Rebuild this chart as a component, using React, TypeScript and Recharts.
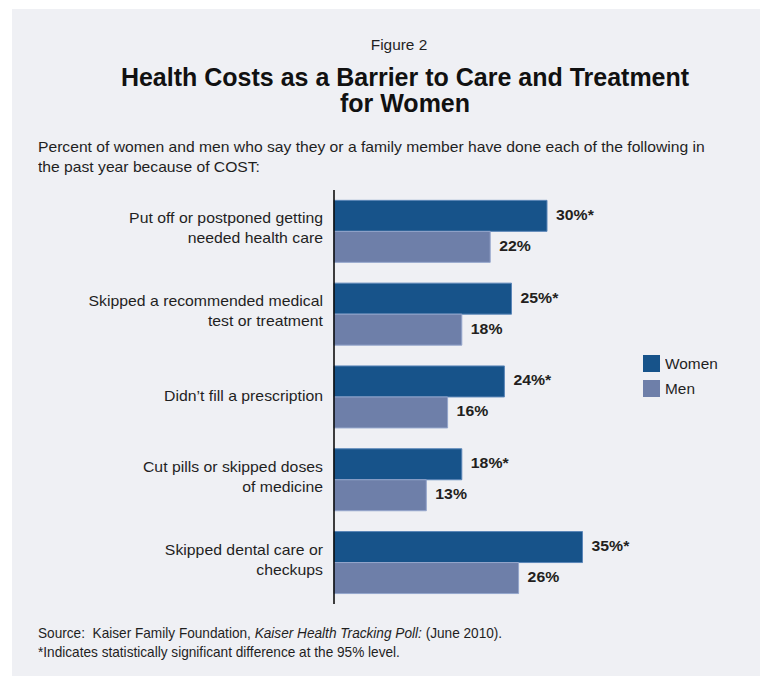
import { BarChart, Bar, XAxis, YAxis, LabelList, Legend } from 'recharts';

const categories = [
  ['Put off or postponed getting', 'needed health care'],
  ['Skipped a recommended medical', 'test or treatment'],
  ['Didn\u2019t fill a prescription'],
  ['Cut pills or skipped doses', 'of medicine'],
  ['Skipped dental care or', 'checkups'],
];
const women = [30, 25, 24, 18, 35];
const men = [22, 18, 16, 13, 26];
const womenLabels = ['30%*', '25%*', '24%*', '18%*', '35%*'];
const menLabels = ['22%', '18%', '16%', '13%', '26%'];

const data = categories.map((lines, i) => ({
  name: lines.join(' '),
  lines,
  women: women[i],
  men: men[i],
  womenLabel: womenLabels[i],
  menLabel: menLabels[i],
}));

const WOMEN = '#17538a';
const MEN = '#6e7fa9';
const FONT = 'Arial, "Liberation Sans", sans-serif';
const STRETCH = 1.13;

// category names, right aligned against the axis, text a bit wide like the original
const CategoryTick = (props: any) => {
  const { y, payload } = props;
  const lines: string[] = data[payload.index]?.lines ?? [payload.value];
  const start = -((lines.length - 1) * 20) / 2 + (lines.length > 1 ? 2 : 4);
  return (
    <g transform={`translate(323, ${y}) scale(${STRETCH}, 1)`}>
      <text x={0} y={0} textAnchor="end" fontSize={14} fill="#1f1f1f" fontFamily={FONT}>
        {lines.map((l, i) => (
          <tspan key={i} x={0} dy={i === 0 ? start : 20}>
            {l}
          </tspan>
        ))}
      </text>
    </g>
  );
};

const ValueLabel = (props: any) => {
  const { x, y, width, height, value } = props;
  return (
    <g transform={`translate(${x + width + 9}, ${y + height / 2 + 4}) scale(${STRETCH}, 1)`}>
      <text x={0} y={0} fontSize={14} fontWeight="bold" fill="#231f20" fontFamily={FONT}>
        {value}
      </text>
    </g>
  );
};

const LegendBox = () => (
  <div style={{ fontFamily: FONT, fontSize: 14, color: '#1f1f1f' }}>
    {[
      ['Women', WOMEN],
      ['Men', MEN],
    ].map(([label, color]) => (
      <div key={label} style={{ display: 'flex', alignItems: 'center', height: 25 }}>
        <span style={{ width: 17, height: 17, background: color, display: 'inline-block', marginRight: 5 }} />
        <span style={{ display: 'inline-block', transform: 'scaleX(1.1)', transformOrigin: 'left center' }}>{label}</span>
      </div>
    ))}
  </div>
);

export default function App() {
  return (
    <div style={{ position: 'absolute', left: 0, top: 0, width: 760, height: 676, background: '#ffffff', overflow: 'hidden' }}>
      <div style={{ position: 'absolute', left: 12, top: 9, width: 748, height: 667, background: '#eff0f4' }} />
      <div style={{ position: 'absolute', left: 299, top: 37, width: 200, textAlign: 'center', fontFamily: FONT, fontSize: 14, color: '#1f1f1f', transform: 'scaleX(1.1)' }}>
        Figure 2
      </div>
      <div style={{ position: 'absolute', left: 55, top: 64, width: 700, textAlign: 'center', fontFamily: FONT, fontSize: 25, fontWeight: 'bold', lineHeight: '26px', color: '#111' }}>
        Health Costs as a Barrier to Care and Treatment
        <br />
        for Women
      </div>
      <div
        style={{
          position: 'absolute',
          left: 38,
          top: 137,
          width: 700,
          fontFamily: FONT,
          fontSize: 14.5,
          lineHeight: '20px',
          color: '#1f1f1f',
          whiteSpace: 'nowrap',
          transform: 'scaleX(1.08)',
          transformOrigin: 'left top',
        }}
      >
        Percent of women and men who say they or a family member have done each of the following in
        <br />
        the past year because of COST:
      </div>
      <div style={{ position: 'absolute', left: 0, top: 0 }}>
        <BarChart
          width={760}
          height={676}
          data={data}
          layout="vertical"
          margin={{ top: 190, right: 71, bottom: 72, left: 0 }}
          barCategoryGap="12.5%"
          barGap={0}
        >
          <XAxis type="number" domain={[0, 50]} hide />
          <YAxis
            type="category"
            dataKey="name"
            width={334}
            axisLine={{ stroke: '#000', strokeWidth: 1.5 }}
            tickLine={false}
            tick={<CategoryTick />}
            interval={0}
          />
          <Legend
            layout="vertical"
            align="center"
            verticalAlign="middle"
            content={<LegendBox />}
            wrapperStyle={{ left: 643, top: 351, width: 110 }}
          />
          <Bar dataKey="women" name="Women" fill={WOMEN} stroke="#5b86b8" strokeWidth={1} isAnimationActive={false}>
            <LabelList dataKey="womenLabel" content={<ValueLabel />} />
          </Bar>
          <Bar dataKey="men" name="Men" fill={MEN} stroke="#94a6cc" strokeWidth={1} isAnimationActive={false}>
            <LabelList dataKey="menLabel" content={<ValueLabel />} />
          </Bar>
        </BarChart>
      </div>
      <div
        style={{
          position: 'absolute',
          left: 38,
          top: 624,
          fontFamily: FONT,
          fontSize: 14.5,
          lineHeight: '19px',
          color: '#1f1f1f',
          whiteSpace: 'nowrap',
          transform: 'scaleX(0.94)',
          transformOrigin: 'left top',
        }}
      >
        Source:&nbsp; Kaiser Family Foundation, <i>Kaiser Health Tracking Poll:</i> (June 2010).
        <br />
        *Indicates statistically significant difference at the 95% level.
      </div>
    </div>
  );
}
